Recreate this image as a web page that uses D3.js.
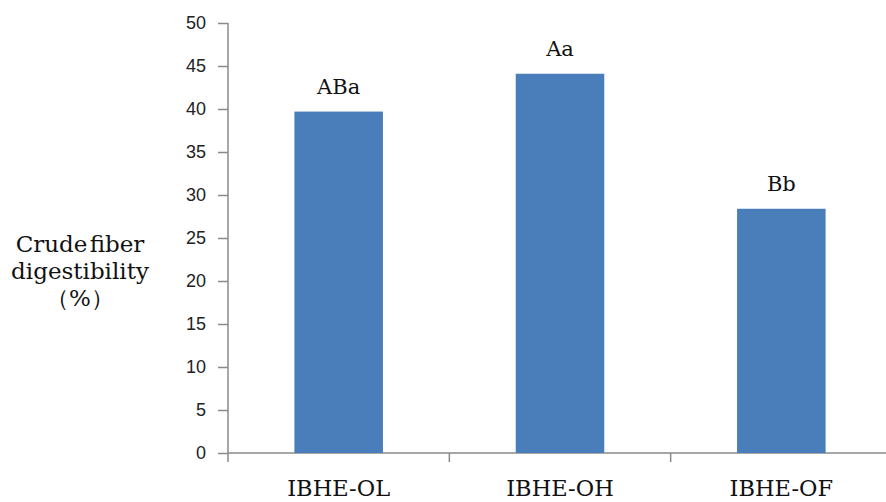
<!DOCTYPE html>
<html>
<head>
<meta charset="utf-8">
<script src="https://cdn.jsdelivr.net/npm/d3@7"></script>
<style>
  html, body { margin: 0; padding: 0; background: #fff; }
  svg { display: block; }
</style>
</head>
<body>
<svg id="chart" width="886" height="502"></svg>
<script>
const categories = ["IBHE-OL", "IBHE-OH", "IBHE-OF"];
const values = [39.7, 44.1, 28.4];
const letters = ["ABa", "Aa", "Bb"];
const yTicks = [0, 5, 10, 15, 20, 25, 30, 35, 40, 45, 50];
const yTitle = ["Crude fiber", "digestibility", "（%）"];

const svg = d3.select("#chart");
const axisColor = "#8a8a8a";
const barColor = "#4a7ebb";
const serif = "'DejaVu Serif', serif";

const x = d3.scaleBand().domain(categories).range([228, 892]).paddingInner(0.6).paddingOuter(0.3);
const y = d3.scaleLinear().domain([0, 50]).range([453, 23]);

// Y axis
const yAxis = d3.axisLeft(y).tickValues(yTicks).tickSize(10).tickSizeOuter(0).tickPadding(12);
const gy = svg.append("g").attr("transform", "translate(228,0)").call(yAxis);
gy.select(".domain").remove();
gy.append("line").attr("x1", 0).attr("x2", 0).attr("y1", y(50)).attr("y2", y(0) + 9)
  .attr("stroke", axisColor).attr("stroke-width", 1.5);
gy.selectAll(".tick line").attr("stroke", axisColor).attr("stroke-width", 1.5);
gy.selectAll(".tick text").attr("fill", "#222").attr("font-size", null)
  .style("font-family", "'Liberation Sans', Arial, sans-serif").style("font-size", "18px");

// X axis line and boundary ticks
svg.append("line").attr("x1", 228).attr("x2", 886).attr("y1", y(0)).attr("y2", y(0))
  .attr("stroke", axisColor).attr("stroke-width", 1.5);
svg.selectAll(".btick").data(categories.slice(1)).join("line")
  .attr("class", "btick")
  .attr("x1", c => x(c) - (x.step() - x.bandwidth()) / 2)
  .attr("x2", c => x(c) - (x.step() - x.bandwidth()) / 2)
  .attr("y1", y(0)).attr("y2", y(0) + 9)
  .attr("stroke", axisColor).attr("stroke-width", 1.5);

// Bars
svg.selectAll(".bar").data(categories).join("rect")
  .attr("class", "bar")
  .attr("x", c => x(c))
  .attr("width", x.bandwidth())
  .attr("y", (c, i) => y(values[i]))
  .attr("height", (c, i) => y(0) - y(values[i]))
  .attr("fill", barColor);

// Letter labels
svg.selectAll(".lbl").data(categories).join("text")
  .attr("class", "lbl")
  .attr("x", c => x(c) + x.bandwidth() / 2)
  .attr("y", (c, i) => y(values[i]) - 18)
  .attr("text-anchor", "middle")
  .style("font-family", serif).style("font-size", "21px").attr("fill", "#111")
  .text((c, i) => letters[i]);

// Category labels
svg.selectAll(".cat").data(categories).join("text")
  .attr("class", "cat")
  .attr("x", c => x(c) + x.bandwidth() / 2)
  .attr("y", 496)
  .attr("text-anchor", "middle")
  .style("font-family", serif).style("font-size", "22.5px").attr("fill", "#111")
  .text(c => c);

// Y title
svg.selectAll(".yt").data(yTitle).join("text")
  .attr("class", "yt")
  .attr("x", 80)
  .attr("y", (d, i) => 252 + i * 27)
  .attr("text-anchor", "middle")
  .style("font-family", serif).style("font-size", "23px").attr("fill", "#111")
  .style("word-spacing", "-5px")
  .text(d => d);
</script>
</body>
</html>
